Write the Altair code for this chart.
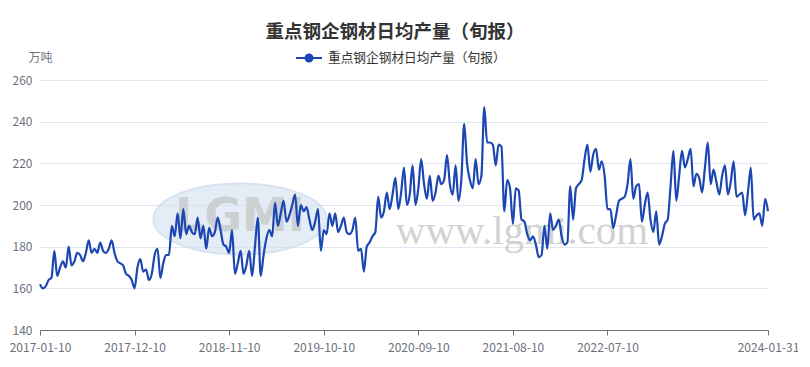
import altair as alt
import pandas as pd
import calendar

# ---- data (万吨), one value per 旬 (dekad) ----
values_2017 = [162, 160, 161, 164, 165, 178, 166, 170, 173, 170, 180, 171,
               173, 177, 176, 173, 177, 183, 177, 179, 177, 182, 178, 177,
               179, 183, 177, 173, 172, 171, 167, 166, 164, 160, 170, 174]
values_2018 = [168, 169, 164, 167, 176, 179, 165, 172, 176, 176, 190, 185,
               196, 184, 198, 186, 190, 187, 186, 194, 184, 190, 179, 189,
               185, 187, 194, 188, 181, 180, 177, 188, 167, 172, 178, 167]
values_2019 = [171, 178, 166, 180, 194, 166, 176, 184, 188, 185, 201, 190,
               196, 202, 192, 195, 200, 205, 190, 200, 197, 199, 193, 188,
               192, 198, 178, 188, 186, 196, 190, 196, 187, 190, 194, 187]
values_2020 = [186, 188, 194, 178, 179, 168, 180, 182, 185, 187, 204, 194,
               197, 206, 198, 205, 213, 198, 206, 218, 200, 205, 219, 200,
               208, 222, 210, 203, 214, 202, 206, 214, 210, 212, 224, 210]
values_2021 = [205, 219, 202, 212, 239, 220, 212, 208, 222, 210, 214, 247,
               230, 230, 229, 219, 229, 228, 197, 212, 208, 191, 208, 207,
               193, 192, 186, 183, 185, 181, 175, 176, 190, 179, 196, 188]
values_2022 = [190, 193, 185, 181, 182, 209, 193, 208, 210, 212, 222, 229,
               216, 224, 227, 217, 221, 214, 198, 198, 189, 195, 202, 203,
               204, 210, 222, 203, 209, 210, 192, 200, 206, 193, 187, 197]
values_2023 = [181, 185, 191, 193, 209, 226, 202, 214, 226, 218, 222, 227,
               209, 215, 213, 206, 218, 230, 210, 217, 211, 205, 214, 219,
               205, 211, 221, 204, 205, 206, 195, 206, 218, 193, 195, 196]
values_2024 = [190, 203, 197]

tick_labels = ["2017-01-10", "2017-12-10", "2018-11-10", "2019-10-10",
               "2020-09-10", "2021-08-10", "2022-07-10", "2024-01-31"]
y_ticks = [140, 160, 180, 200, 220, 240, 260]

title_text = "重点钢企钢材日均产量（旬报）"
series_name = "重点钢企钢材日均产量（旬报）"
unit_text = "万吨"

values = (values_2017 + values_2018 + values_2019 + values_2020 +
          values_2021 + values_2022 + values_2023 + values_2024)

# category labels: 10th, 20th and month end of each month
dates = []
for yr in range(2017, 2025):
    for mo in range(1, 13):
        if yr == 2024 and mo > 1:
            break
        last = calendar.monthrange(yr, mo)[1]
        for d in (10, 20, last):
            dates.append(f"{yr}-{mo:02d}-{d:02d}")

df = pd.DataFrame({"date": dates, "value": values})

BLUE = "#1c47b3"
GRAY = "#6e7079"
FONT = "Noto Sans CJK SC"

line = alt.Chart(df).mark_line(
    interpolate="monotone", color=BLUE, strokeWidth=2.2
).encode(
    x=alt.X("date:O", sort=None,
            scale=alt.Scale(type="point", padding=0),
            axis=alt.Axis(values=tick_labels, labelAngle=0, title=None,
                          domainColor=GRAY, tickColor=GRAY, tickSize=5,
                          labelColor=GRAY, labelFontSize=12, labelFont=FONT,
                          labelPadding=7, labelOverlap=False, grid=False)),
    y=alt.Y("value:Q",
            scale=alt.Scale(domain=[140, 260], nice=False, zero=False),
            axis=alt.Axis(values=y_ticks, title=unit_text, titleAngle=0,
                          titleX=0, titleY=-23, titleAlign="center",
                          titleBaseline="middle", titleFont=FONT,
                          titleFontSize=12, titleFontWeight="normal",
                          titleColor=GRAY, labelColor=GRAY, labelFontSize=12,
                          labelFont=FONT, labelPadding=8, ticks=False,
                          domain=False, grid=True, gridColor="#e0e6f1",
                          gridWidth=1))
)

one = pd.DataFrame({"t": [title_text], "s": [series_name],
                    "w": ["www.lgmi.com"], "l": ["LGMI"]})

# watermark
ellipse = alt.Chart(one).mark_point(
    shape="M -1 0 A 1 0.41 0 1 1 1 0 A 1 0.41 0 1 1 -1 0 Z",
    filled=True, fill="#cfdff0", stroke="#b8cde6", strokeWidth=2,
    opacity=0.55, size=30000
).encode(x=alt.value(200), y=alt.value(139))
logo = alt.Chart(one).mark_text(
    font="DejaVu Sans", fontSize=46, fontWeight="bold", color="#c4c4c4",
    opacity=0.7, align="center", baseline="middle"
).encode(x=alt.value(200), y=alt.value(137), text="l:N")
wm = alt.Chart(one).mark_text(
    font="Liberation Serif", fontSize=41, color="#c8c8c8", opacity=0.8,
    align="center", baseline="middle"
).encode(x=alt.value(482), y=alt.value(152), text="w:N")

title = alt.Chart(one).mark_text(
    font=FONT, fontSize=18.5, fontWeight="bold", color="#333333",
    align="center", baseline="middle"
).encode(x=alt.value(355), y=alt.value(-48), text="t:N")

leg_rule = alt.Chart(one).mark_rule(color=BLUE, strokeWidth=2).encode(
    x=alt.value(256), x2=alt.value(282), y=alt.value(-22))
leg_dot = alt.Chart(one).mark_point(
    filled=True, color=BLUE, size=80, opacity=1
).encode(x=alt.value(269), y=alt.value(-22))
leg_text = alt.Chart(one).mark_text(
    font=FONT, fontSize=12.7, color="#333333", align="left", baseline="middle"
).encode(x=alt.value(288), y=alt.value(-22), text="s:N")

chart = alt.layer(
    ellipse, logo, wm, line, title, leg_rule, leg_dot, leg_text
).properties(
    width=728, height=250,
    autosize=alt.AutoSizeParams(type="none"),
    padding={"left": 32, "top": 72, "right": 30, "bottom": 29},
    background="white"
).configure_view(stroke=None)

chart.save("out.html", embed_options={"renderer": "svg", "actions": False})
